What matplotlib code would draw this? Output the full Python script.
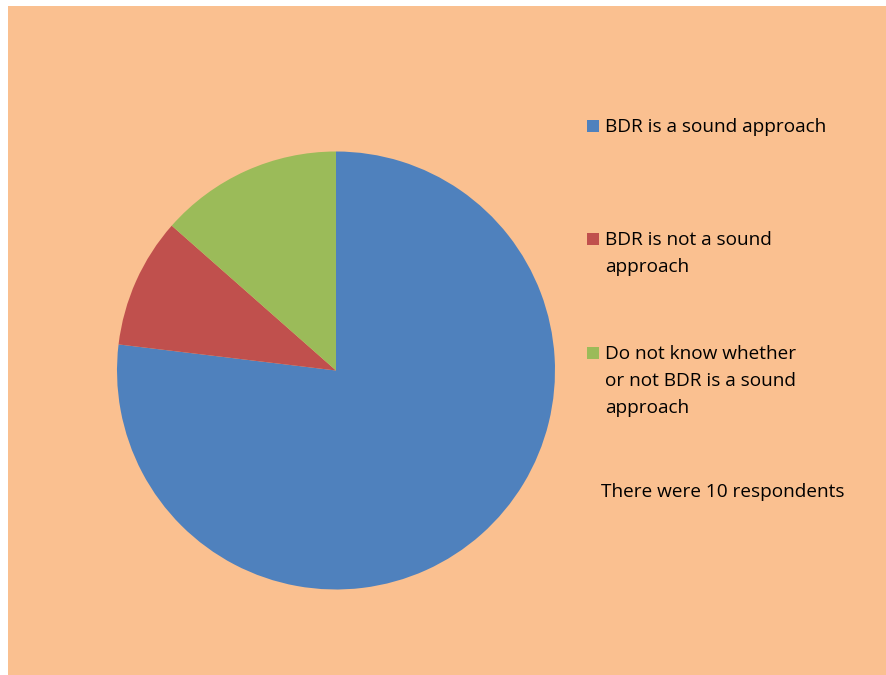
import matplotlib.pyplot as plt
from matplotlib.patches import Rectangle

# survey answers, share of respondents (%)
labels = [
    "BDR is a sound approach",
    "BDR is not a sound\napproach",
    "Do not know whether\nor not BDR is a sound\napproach",
]
shares = [76.9, 9.6, 13.5]
colors = ["#4F81BD", "#C0504D", "#9BBB59"]
note = "There were 10 respondents"

W, H = 887, 675
fig = plt.figure(figsize=(W / 100, H / 100), dpi=100, facecolor="white")

# peach chart area with a thin white margin top/left
fig.patches.append(Rectangle((8 / W, 0), 1 - 8 / W, (H - 6) / H,
                             transform=fig.transFigure, facecolor="#FAC090",
                             edgecolor="none", zorder=-10))

r = 219
cx, cy = 336, 370.5
ax = fig.add_axes([(cx - r) / W, (H - cy - r) / H, 2 * r / W, 2 * r / H])
ax.set_facecolor("none")
ax.pie(shares, colors=colors, startangle=90, counterclock=False,
       radius=1, wedgeprops=dict(linewidth=0))
ax.set_xlim(-1, 1)
ax.set_ylim(-1, 1)
ax.set_axis_off()

font = dict(family=["Open Sans", "DejaVu Sans"], size=13.7, color="black")

# legend drawn by hand: square marker + wrapped label, one baseline per line
baselines = [132, 245, 359]
line_step = 27
for lab, col, yb in zip(labels, colors, baselines):
    fig.patches.append(Rectangle((587 / W, (H - yb) / H), 12.5 / W, 12.5 / H,
                                 transform=fig.transFigure, facecolor=col,
                                 edgecolor="none", zorder=3))
    for i, line in enumerate(lab.split("\n")):
        fig.text(605 / W, (H - yb - i * line_step) / H, line,
                 ha="left", va="baseline", **font)

fig.text(601 / W, (H - 497) / H, note, ha="left", va="baseline", **font)

fig.savefig("out.png", dpi=100, facecolor=fig.get_facecolor())
